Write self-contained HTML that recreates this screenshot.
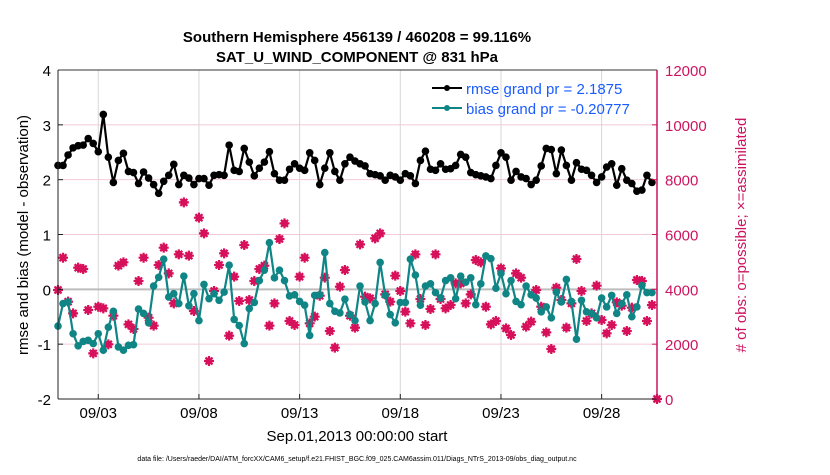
<!DOCTYPE html>
<html><head><meta charset="utf-8"><style>
body{margin:0;background:#fff;}
svg text{font-family:"Liberation Sans",Arial,sans-serif;}
</style></head><body>
<svg id="chart" width="830" height="470" viewBox="0 0 830 470" xmlns="http://www.w3.org/2000/svg">
<text x="357" y="42" text-anchor="middle" font-size="15" font-weight="bold">Southern Hemisphere 456139 / 460208 = 99.116%</text>
<text x="357" y="62" text-anchor="middle" font-size="15" font-weight="bold">SAT_U_WIND_COMPONENT @ 831 hPa</text>
<g id="grid"></g>
<g id="marks"></g>
<g id="axes"></g>
<text transform="translate(28,235) rotate(-90)" text-anchor="middle" font-size="15">rmse and bias (model - observation)</text>
<text transform="translate(746,235) rotate(-90)" text-anchor="middle" font-size="15" fill="#cc1460"># of obs: o=possible; ×=assimilated</text>
<text x="357" y="441" text-anchor="middle" font-size="15">Sep.01,2013 00:00:00 start</text>
<text x="357" y="461" text-anchor="middle" font-size="7">data file: /Users/raeder/DAI/ATM_forcXX/CAM6_setup/f.e21.FHIST_BGC.f09_025.CAM6assim.011/Diags_NTrS_2013-09/obs_diag_output.nc</text>
<g>
<line x1="432" y1="88" x2="462" y2="88" stroke="#000" stroke-width="2"/>
<circle cx="447" cy="88" r="3" fill="#000"/>
<text x="466" y="94" font-size="15" fill="#1a5cff">rmse grand pr = 2.1875</text>
<line x1="432" y1="108" x2="462" y2="108" stroke="#108585" stroke-width="2"/>
<circle cx="447" cy="108" r="3" fill="#108585"/>
<text x="466" y="114" font-size="15" fill="#1a5cff">bias grand pr = -0.20777</text>
</g>
</svg>
<script>
const rmseVals=[2.26,2.26,2.45,2.58,2.62,2.63,2.75,2.66,2.51,3.19,2.41,1.95,2.35,2.48,2.15,2.13,1.93,2.14,2.03,1.91,1.75,1.97,2.08,2.28,1.91,2.08,2.03,1.91,2.02,2.02,1.90,
2.08,2.09,2.08,2.63,2.17,2.15,2.57,2.32,2.07,2.21,2.32,2.51,2.11,1.99,1.99,2.19,2.29,2.21,2.17,2.49,2.35,1.91,2.21,2.49,2.15,1.99,2.29,2.41,2.34,2.29,
2.25,2.11,2.09,2.07,1.99,2.08,2.05,1.99,2.11,2.07,1.93,2.35,2.52,2.19,2.17,2.29,2.19,2.20,2.26,2.46,2.41,2.13,2.09,2.07,2.05,2.02,2.26,2.49,2.41,
1.99,2.15,2.05,2.02,1.91,1.99,2.25,2.57,2.55,2.11,2.54,2.26,1.99,2.31,2.19,2.17,2.08,1.95,2.05,2.23,2.29,1.90,2.20,1.99,1.93,1.79,1.81,2.08,1.95];
const biasVals=[-0.67,-0.26,-0.23,-0.81,-1.03,-0.95,-0.93,-0.99,-0.81,-1.11,-0.69,-0.40,-1.05,-1.11,-1.02,-1.01,-0.36,-0.44,-0.61,0.06,0.22,0.55,-0.14,-0.08,-0.26,0.24,-0.30,-0.08,-0.57,0.09,-0.17,
-0.08,-0.20,-0.05,0.44,-0.55,-0.66,-0.99,-0.35,-0.24,0.16,0.35,0.85,0.21,0.35,0.16,-0.12,-0.10,-0.22,-0.29,-0.84,-0.11,-0.10,0.67,-0.26,-0.40,-0.43,-0.18,-0.46,-0.57,0.06,
-0.23,-0.57,-0.26,0.49,-0.11,-0.46,-0.61,-0.24,-0.24,0.55,0.26,-0.29,0.06,0.10,-0.06,-0.16,0.16,0.21,-0.17,0.24,0.13,0.21,-0.28,0.10,0.61,0.56,0.02,0.29,-0.08,
0.16,-0.22,-0.28,0.06,-0.10,-0.16,-0.41,-0.32,-0.52,-0.05,-0.23,0.18,-0.22,-0.91,-0.20,-0.41,-0.44,-0.52,-0.16,-0.32,-0.11,-0.44,-0.26,-0.10,-0.50,-0.32,0.07,-0.06,-0.06];
const obsVals=[3975,5154,3550,3124,4790,4741,3246,1665,3367,3307,1994,3039,4863,4985,2723,2553,4303,5154,2966,2675,4887,5519,4583,3489,5277,7172,5228,3209,6614,6042,1386,
3939,4887,5313,2310,4462,3574,5617,3611,4303,4741,4863,2675,3489,5835,6407,2845,2699,4462,5154,2760,3003,3768,4425,2480,1872,4097,4705,3039,2602,5641,
3732,3672,5860,6042,3817,3550,4498,3939,3185,2760,5277,3647,2699,3283,5277,3647,3307,3428,4218,4218,3489,3817,5069,4985,3367,2723,2845,4766,2577,
2334,4583,4425,2638,2820,3975,3367,2431,1824,4060,3611,2602,3489,5106,3939,2845,3124,4133,2881,2395,2699,3526,3404,2480,3331,4340,4303,2845,3428,0];
const leftTicks=[-2,-1,0,1,2,3,4];
const rightTicks=[0,2000,4000,6000,8000,10000,12000];
const dateTickDays=[2,7,12,17,22,27];
const dateTickLabels=["09/03","09/08","09/13","09/18","09/23","09/28"];

const NS="http://www.w3.org/2000/svg";
const L=58,R=657,T=70,B=399,DMAX=29.75;
const xs=d=>L+(R-L)*d/DMAX;
const yL=v=>B-(B-T)*(v+2)/6;
const yR=v=>B-(B-T)*v/12000;
function mk(parent,tag,attrs){const e=document.createElementNS(NS,tag);for(const k in attrs)e.setAttribute(k,attrs[k]);parent.appendChild(e);return e;}
const grid=document.getElementById('grid'),marks=document.getElementById('marks'),axes=document.getElementById('axes');
dateTickDays.forEach((d,i)=>{
  const g=mk(grid,'line',{x1:xs(d),x2:xs(d),y1:T,y2:B,stroke:'#d6d6d6','stroke-width':1});
  
  
  mk(axes,'line',{x1:xs(d),x2:xs(d),y1:B,y2:B-5,stroke:'#222'});
  const t=mk(axes,'text',{x:xs(d),y:418,'text-anchor':'middle','font-size':15});
  t.textContent=dateTickLabels[i];
  
  
});
leftTicks.forEach(v=>{
  if(v!==-2&&v!==4&&v!==0){
    const g=mk(grid,'line',{x1:L,x2:R,y1:yL(v),y2:yL(v),stroke:'#f2cbd8','stroke-width':1});
    
    
  }
  mk(axes,'line',{x1:L,x2:L+5,y1:yL(v),y2:yL(v),stroke:'#222'});
  const t=mk(axes,'text',{x:L-7,y:yL(v)+6,'text-anchor':'end','font-size':15});
  t.textContent=v;
  
  
});
const z=mk(grid,'line',{x1:L,x2:R,y1:yL(0),y2:yL(0),stroke:'#bdbdbd','stroke-width':2});


rightTicks.forEach(v=>{
  mk(axes,'line',{x1:R,x2:R-5,y1:yR(v),y2:yR(v),stroke:'#cc1460'});
  const t=mk(axes,'text',{x:R+8,y:yR(v)+6,'font-size':15,fill:'#cc1460'});
  t.textContent=v;
  
  
});
mk(axes,'line',{x1:L,x2:R,y1:T,y2:T,stroke:'#333'});
mk(axes,'line',{x1:L,x2:R,y1:B,y2:B,stroke:'#222'});
mk(axes,'line',{x1:L,x2:L,y1:T,y2:B,stroke:'#222'});
mk(axes,'line',{x1:R,x2:R,y1:T,y2:B,stroke:'#cc1460','stroke-width':1.5});

obsVals.forEach((v,i)=>{
  const cx=xs(i*0.25),cy=yR(v);
  const g=mk(marks,'g',{transform:`translate(${cx},${cy})`});
  
  
  mk(g,'circle',{r:3.6,fill:'#d6105a'});
  mk(g,'path',{d:'M-5,0H5M0,-5V5M-3.5,-3.5L3.5,3.5M-3.5,3.5L3.5,-3.5',stroke:'#d6105a','stroke-width':2.2});
});
function series(vals,color,name){
  const pts=vals.map((v,i)=>xs(i*0.25).toFixed(1)+','+yL(v).toFixed(1)).join(' ');
  const pl=mk(marks,'polyline',{points:pts,fill:'none',stroke:color,'stroke-width':2.2});
  
  
  vals.forEach((v,i)=>{
    const c=mk(marks,'circle',{cx:xs(i*0.25),cy:yL(v),r:3.8,fill:color});
    
    
  });
}
series(biasVals,'#108585','bias');
series(rmseVals,'#000000','rmse');
</script>
</body></html>
